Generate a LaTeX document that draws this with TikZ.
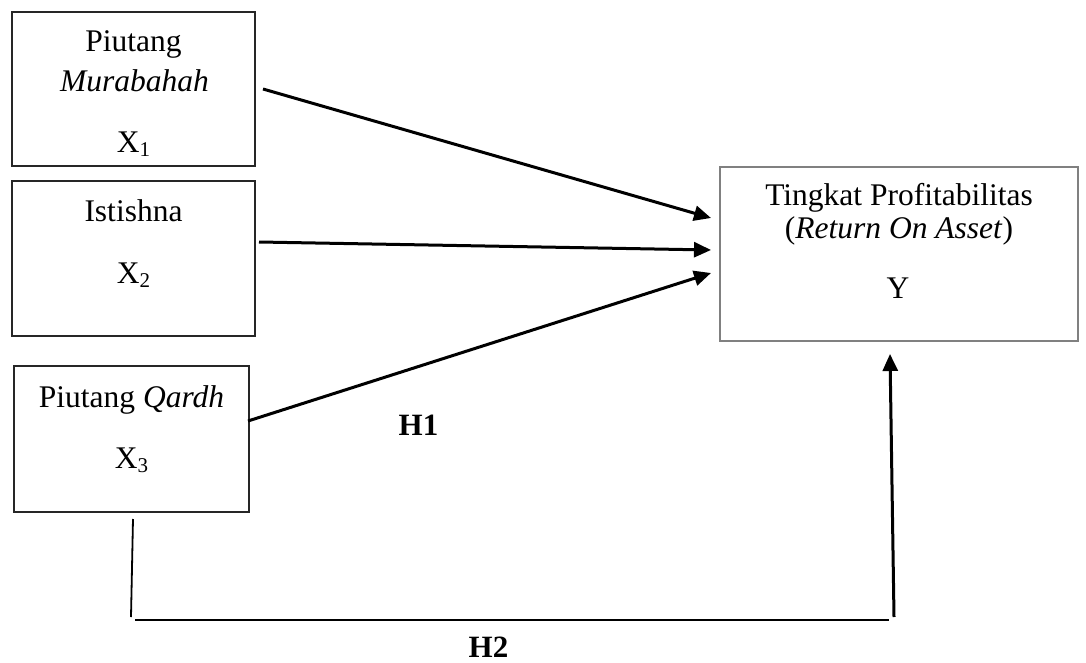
\documentclass[tikz,border=0pt]{standalone}
\usepackage{fontspec}
\setmainfont{Liberation Serif}
\usetikzlibrary{arrows.meta}
\newcommand{\subx}[1]{\raisebox{-4pt}{\fontsize{21}{21}\selectfont #1}}
\tikzset{
  xbox/.style={draw=black!85, line width=2pt, inner sep=0pt},
  ybox/.style={draw=black!50, line width=2pt, inner sep=0pt},
  txt/.style={anchor=base, inner sep=0pt, font=\fontsize{31.5}{36}\selectfont},
  htxt/.style={anchor=base, inner sep=0pt, font=\fontsize{31}{36}\selectfont\bfseries},
  arr/.style={line width=3pt, -{Triangle[length=17pt,width=15pt]}},
  thin line/.style={line width=1.8pt}
}
\begin{document}
\begin{tikzpicture}[x=1pt,y=-1pt]
\useasboundingbox (0,0) rectangle (1086,663);
% boxes
\node[xbox, minimum width=243pt, minimum height=154pt] (b1) at (133.5,89) {};
\node[xbox, minimum width=243pt, minimum height=155pt] (b2) at (133.5,258.5) {};
\node[xbox, minimum width=235pt, minimum height=146pt] (b3) at (131.5,439) {};
\node[ybox, minimum width=358pt, minimum height=174pt] (yb) at (899,254) {};
% texts
\node[txt] (t1a) at (133.5,52) {Piutang};
\node[txt] (t1b) at (134.5,92) {\textit{Murabahah}};
\node[txt] (t1c) at (133.5,153) {X\subx{1}};
\node[txt] (t2a) at (133.5,222) {Istishna};
\node[txt] (t2b) at (133.5,283) {X\subx{2}};
\node[txt] (t3a) at (131.5,407) {Piutang \textit{Qardh}};
\node[txt] (t3b) at (131.5,468) {X\subx{3}};
\node[txt] (tya) at (899,205) {Tingkat Profitabilitas};
\node[txt] (tyb) at (899,238) {(\textit{Return On Asset})};
\node[txt] (tyc) at (898,298) {Y};
\node[htxt] (h1) at (418.5,435) {H1};
\node[htxt] (h2) at (488.5,657) {H2};
% arrows H1
\draw[arr] ([xshift=7pt]b1.east) -- ([xshift=-8pt,yshift=36pt]yb.west);
\draw[arr] ([xshift=3pt,yshift=16.5pt]b2.east) -- ([xshift=-8pt,yshift=4pt]yb.west);
\draw[arr] ([xshift=-2pt,yshift=18pt]b3.east) -- ([xshift=-8pt,yshift=-19pt]yb.west);
% H2 path
\coordinate (c1) at (131,617);
\coordinate (c2) at (135,620);
\coordinate (c3) at (889,620);
\coordinate (c4) at (894,617);
\draw[thin line] ([xshift=1.5pt,yshift=-6pt]b3.south) -- (c1);
\draw[thin line] (c2) -- (c3);
\draw[arr] (c4) -- ([xshift=-9pt,yshift=-12pt]yb.south);
\end{tikzpicture}
\end{document}
